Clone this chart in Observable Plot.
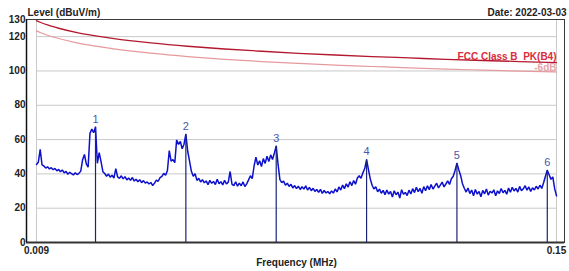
<!DOCTYPE html>
<html>
<head>
<meta charset="utf-8">
<script src="https://cdn.jsdelivr.net/npm/d3@7"></script>
<script src="https://cdn.jsdelivr.net/npm/@observablehq/plot@0.6"></script>
<style>
  html, body { margin: 0; padding: 0; background: #fff; }
  #chart { width: 569px; height: 271px; }
</style>
</head>
<body>
<div id="chart"></div>
<script>
// ---- Measured spectrum (frequency in kHz, level in dBuV/m) ----
const traceFreqKHz = [
  9,9.5,10,10.5,11,11.5,12,12.5,13,13.5,
  14,14.5,15,15.5,16,16.5,17,17.5,18,18.5,
  19,19.5,20,20.5,21,21.5,22,22.5,23,23.5,
  24,24.5,25,25.5,26,26.5,27,27.5,28,28.5,
  29,29.5,30,30.5,31,31.5,32,32.5,33,33.5,
  34,34.5,35,35.5,36,36.5,37,37.5,38,38.5,
  39,39.5,40,40.5,41,41.5,42,42.5,43,43.5,
  44,44.5,45,45.5,46,46.5,47,47.5,48,48.5,
  49,49.5,50,50.5,51,51.5,52,52.5,53,53.5,
  54,54.5,55,55.5,56,56.5,57,57.5,58,58.5,
  59,59.5,60,60.5,61,61.5,62,62.5,63,63.5,
  64,64.5,65,65.5,66,66.5,67,67.5,68,68.5,
  69,69.5,70,70.5,71,71.5,72,72.5,73,73.5,
  74,74.5,75,75.5,76,76.5,77,77.5,78,78.5,
  79,79.5,80,80.5,81,81.5,82,82.5,83,83.5,
  84,84.5,85,85.5,86,86.5,87,87.5,88,88.5,
  89,89.5,90,90.5,91,91.5,92,92.5,93,93.5,
  94,94.5,95,95.5,96,96.5,97,97.5,98,98.5,
  99,99.5,100,100.5,101,101.5,102,102.5,103,103.5,
  104,104.5,105,105.5,106,106.5,107,107.5,108,108.5,
  109,109.5,110,110.5,111,111.5,112,112.5,113,113.5,
  114,114.5,115,115.5,116,116.5,117,117.5,118,118.5,
  119,119.5,120,120.5,121,121.5,122,122.5,123,123.5,
  124,124.5,125,125.5,126,126.5,127,127.5,128,128.5,
  129,129.5,130,130.5,131,131.5,132,132.5,133,133.5,
  134,134.5,135,135.5,136,136.5,137,137.5,138,138.5,
  139,139.5,140,140.5,141,141.5,142,142.5,143,143.5,
  144,144.5,145,145.5,146,146.5,147,147.5,148,148.5,
  149,149.5,150
];
const traceLevel = [
  45.5,46.8,54.3,45.2,44.6,43.4,44.1,42.9,43.6,42.4,
  43.2,41.8,42.6,41.2,42.3,40.6,41.5,39.8,40.9,40.2,
  39.4,40.7,39.6,40.3,41.6,48.2,51.3,45.8,43.9,63.6,
  66.1,64.0,67.3,46.2,52.4,47.1,41.3,40.2,38.6,39.9,
  38.1,39.2,37.5,43.1,38.2,37.4,38.9,37.1,38.4,36.5,
  37.6,36.2,37.9,35.8,36.9,35.4,36.6,34.9,36.1,34.6,
  35.3,34.1,35.0,33.2,34.6,36.4,35.7,37.8,38.6,40.3,
  39.2,42.0,53.6,47.4,48.3,46.5,59.8,57.2,58.9,54.6,
  57.3,63.1,53.2,47.4,41.5,38.6,40.1,36.2,37.4,35.3,
  36.6,34.8,35.9,33.7,36.2,34.5,35.6,33.8,36.9,34.2,
  35.5,33.6,36.3,34.1,35.2,41.4,34.0,33.2,35.4,32.8,
  34.6,33.1,35.3,32.6,34.2,36.5,38.9,37.2,44.6,49.8,
  45.2,47.6,44.3,48.9,46.1,50.3,47.2,51.1,48.4,52.2,
  56.2,45.5,36.7,34.9,35.8,33.4,34.6,32.7,33.9,31.8,
  33.2,31.4,32.8,30.9,32.5,31.1,33.0,30.6,32.1,30.2,
  31.6,29.8,30.9,29.2,31.0,28.6,30.3,28.9,29.7,28.4,
  30.1,28.8,31.2,29.5,32.4,30.6,33.5,31.4,34.2,32.3,
  35.4,33.2,36.1,34.0,37.6,38.9,37.4,40.6,43.1,48.3,
  42.6,37.1,33.4,31.2,32.5,29.6,31.1,28.7,30.4,27.9,
  30.6,28.2,29.7,26.5,30.2,27.8,29.4,25.9,30.8,28.1,
  29.2,27.4,30.5,28.3,31.4,29.1,32.2,29.6,31.5,28.7,
  32.6,30.2,33.1,30.8,33.8,31.2,32.9,34.6,31.8,33.5,
  35.2,32.4,34.1,35.9,33.8,37.2,38.6,42.0,46.2,42.4,
  39.1,34.3,31.6,29.4,31.8,28.5,30.6,27.3,30.9,28.2,
  29.8,26.7,30.4,28.4,31.2,27.6,29.9,28.8,30.7,27.2,
  30.1,28.6,31.5,29.0,30.4,28.1,31.8,29.3,32.2,30.0,
  31.6,29.4,32.7,30.2,31.3,33.1,30.5,32.4,29.8,31.9,
  30.6,32.8,31.2,33.4,31.5,34.8,38.6,42.1,39.5,36.8,
  38.2,31.4,27.2
];

// ---- Limit lines ----
const limitFreqKHz = [9,10,12,15,20,25,30,40,50,60,70,80,90,100,110,120,130,140,150];
const fccLimit     = [129.3,128.4,126.8,124.9,122.4,120.5,118.9,116.4,114.4,112.8,111.5,110.3,109.3,108.4,107.6,106.8,106.1,105.5,104.9];
const limit6dB     = [123.4,122.4,120.8,118.9,116.4,114.5,112.9,110.4,108.4,106.8,105.5,104.4,103.4,102.6,101.8,101.1,100.5,99.9,99.4];
const limitNames   = ["FCC Class B_PK(B4)", "-6dB"];

// ---- Markers ----
const markerIds      = ["1","2","3","4","5","6"];
const markerFreqKHz  = [25, 49.5, 74, 98.5, 123, 147.5];
const markerLevel    = [67.3, 63.1, 56.2, 48.3, 46.2, 42.1];

// ---- Axes ----
const yTicks = [0,20,40,60,80,100,120,130];
const yGrid = [20,40,60,80,100,120];
const xTickKHz = [9,150];
const xTickLabels = ["0.009","0.15"];
const xDomainKHz = [9,150];
const titleText = "Level (dBuV/m)";
const dateText = "Date: 2022-03-03";
const xLabel = "Frequency (MHz)";

// ---- Build tables ----
const trace = traceFreqKHz.map((f, i) => ({f, v: traceLevel[i]}));
const fcc = limitFreqKHz.map((f, i) => ({f, v: fccLimit[i]}));
const fcc6 = limitFreqKHz.map((f, i) => ({f, v: limit6dB[i]}));
const markers = markerIds.map((n, i) => ({n, f: markerFreqKHz[i], v: markerLevel[i]}));
const fccEnd = [fcc[fcc.length - 1]];
const fcc6End = [fcc6[fcc6.length - 1]];

const chart = Plot.plot({
  width: 569,
  height: 271,
  marginLeft: 36,
  marginRight: 13,
  marginTop: 19,
  marginBottom: 29,
  style: {
    fontFamily: "'Liberation Sans', Arial, sans-serif",
    fontSize: "10px",
    fontWeight: "bold",
    color: "#222",
    background: "#fff",
    overflow: "visible"
  },
  x: {
    domain: xDomainKHz,
    ticks: xTickKHz,
    tickFormat: d => xTickLabels[xTickKHz.indexOf(d)],
    tickSize: 0,
    tickPadding: 4,
    label: null
  },
  y: {
    domain: [0, 130],
    ticks: yTicks,
    tickSize: 0,
    tickPadding: 11,
    label: null
  },
  marks: [
    Plot.ruleY(yGrid, {stroke: "#c9c9c9", strokeWidth: 1}),
    Plot.ruleX(xTickKHz, {stroke: "#c9c9c9", strokeWidth: 1}),
    Plot.frame({stroke: "#3a3a3a", strokeWidth: 1, insetLeft: -10, insetRight: -8}),
    Plot.ruleY([0], {stroke: "#333", strokeWidth: 2, insetLeft: -10, insetRight: -8}),
    Plot.ruleX([xDomainKHz[0]], {dx: -10, stroke: "#111", strokeWidth: 1.5}),
    Plot.line(fcc6, {x: "f", y: "v", stroke: "#e59a9c", strokeWidth: 1.2, curve: "monotone-x"}),
    Plot.line(fcc, {x: "f", y: "v", stroke: "#b3182e", strokeWidth: 1.3, curve: "monotone-x"}),
    Plot.text(fccEnd, {x: "f", y: "v", text: () => limitNames[0], textAnchor: "end", lineAnchor: "middle", dy: -6, fill: "#d92c3c", fontSize: 10}),
    Plot.text(fcc6End, {x: "f", y: "v", text: () => limitNames[1], textAnchor: "end", lineAnchor: "middle", dy: -4, fill: "#e8a4a8", fontSize: 10}),
    Plot.line(trace, {x: "f", y: "v", stroke: "#0c10cc", strokeWidth: 1.5, strokeLinejoin: "miter"}),
    Plot.ruleX(markers, {x: "f", y1: 0, y2: "v", stroke: "#1b2478", strokeWidth: 1.2}),
    Plot.text(markers, {x: "f", y: "v", text: "n", dy: -8, lineAnchor: "middle", fill: "#4a56aa", fontWeight: "normal", fontSize: 11}),
    Plot.text([titleText], {frameAnchor: "top-left", text: d => d, textAnchor: "start", lineAnchor: "middle", dx: -9, dy: -7, fill: "#222"}),
    Plot.text([dateText], {frameAnchor: "top-right", text: d => d, textAnchor: "end", lineAnchor: "middle", dx: 10, dy: -7, fill: "#222"}),
    Plot.text([xLabel], {frameAnchor: "bottom", text: d => d, textAnchor: "middle", lineAnchor: "middle", dy: 20, fill: "#222"})
  ]
});
document.getElementById("chart").appendChild(chart);
</script>
</body>
</html>
